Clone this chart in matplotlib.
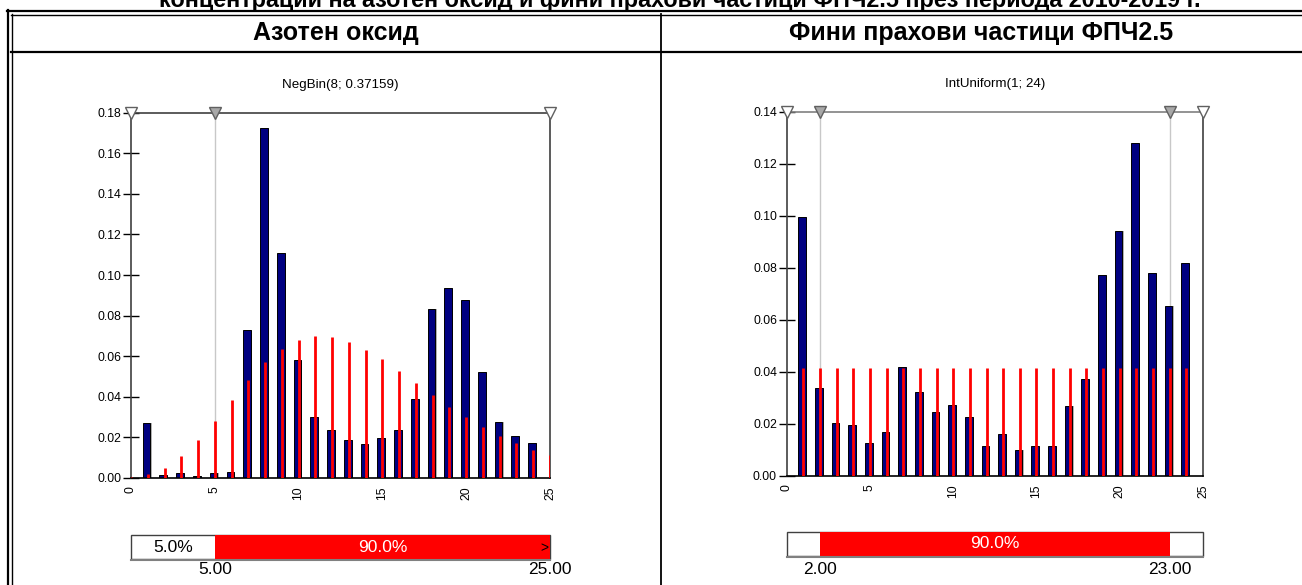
import matplotlib
matplotlib.use("Agg")
import matplotlib.pyplot as plt
from matplotlib.lines import Line2D
from matplotlib.patches import Rectangle
from matplotlib import font_manager
import numpy as np

# ---------------- data ----------------
main_title = "концентрации на азотен оксид и фини прахови частици ФПЧ2.5 през периода 2010-2019 г."
panel_titles = ["Азотен оксид", "Фини прахови частици ФПЧ2.5"]
dist_names = ["NegBin(8; 0.37159)", "IntUniform(1; 24)"]

x_no2 = list(range(1, 25))
no2_hist = [0.0271, 0.0016, 0.0023, 0.0010, 0.0023, 0.0031, 0.0728, 0.1726, 0.1107,
            0.0583, 0.0299, 0.0238, 0.0189, 0.0169, 0.0195, 0.0238, 0.0389, 0.0831,
            0.0934, 0.0879, 0.0522, 0.0278, 0.0209, 0.0174]
x_no2_fit = list(range(0, 26))
no2_fit = [0.0004, 0.0018, 0.0051, 0.0110, 0.0187, 0.0283, 0.0386, 0.0485, 0.0570,
           0.0637, 0.0680, 0.0700, 0.0696, 0.0672, 0.0632, 0.0585, 0.0529, 0.0468,
           0.0407, 0.0352, 0.0299, 0.0250, 0.0207, 0.0171, 0.0138, 0.0112]

x_pm = list(range(1, 25))
pm_hist = [0.0996, 0.0336, 0.0203, 0.0196, 0.0127, 0.0168, 0.0419, 0.0322, 0.0245,
           0.0273, 0.0224, 0.0113, 0.0162, 0.0099, 0.0113, 0.0113, 0.0267, 0.0371,
           0.0771, 0.0940, 0.1280, 0.0778, 0.0651, 0.0820]
x_pm_fit = list(range(1, 25))
pm_fit = [0.0415] * 24

y_max = [0.18, 0.14]
y_ticks = [[0.00, 0.02, 0.04, 0.06, 0.08, 0.10, 0.12, 0.14, 0.16, 0.18],
           [0.00, 0.02, 0.04, 0.06, 0.08, 0.10, 0.12, 0.14]]
x_ticks = [0, 5, 10, 15, 20, 25]
delims = [(5.0, 25.0), (2.0, 23.0)]
pct_left = ["5.0%", ""]
pct_mid = ["90.0%", "90.0%"]
pct_right = [">", ""]
delim_labels = [("5.00", "25.00"), ("2.00", "23.00")]

# ---------------- fonts ----------------
avail = {f.name for f in font_manager.fontManager.ttflist}
narrow = "Liberation Sans Narrow" if "Liberation Sans Narrow" in avail else "Liberation Sans"
plt.rcParams["font.family"] = ["Liberation Sans", "DejaVu Sans"]

W, H = 1302, 585
fig = plt.figure(figsize=(W / 100, H / 100), dpi=100)

def fx(px):
    return px / W

def fy(py):
    return 1 - py / H

def hline(x0, x1, y, lw=1.5, color="black"):
    fig.add_artist(Line2D([fx(x0), fx(x1)], [fy(y), fy(y)], lw=lw, color=color))

def vline(x, y0, y1, lw=1.5, color="black"):
    fig.add_artist(Line2D([fx(x), fx(x)], [fy(y0), fy(y1)], lw=lw, color=color))

# table frame
hline(7, W + 5, 10.5, lw=1.6)
hline(11, W + 5, 14.5, lw=1.0)
vline(7.5, 10, H + 5, lw=1.6)
vline(11.5, 14, H + 5, lw=1.0)
hline(11, W + 5, 52, lw=1.6)
vline(661, 14, H + 5, lw=1.3)

# main title (partly cut off at top, as in the reference)
fig.text(fx(680), fy(7.5), main_title, ha="center", va="baseline", fontsize=16.8,
         fontweight="bold", family=["Liberation Sans", "DejaVu Sans"])

# panel headers
fig.text(fx(336), fy(33), panel_titles[0], ha="center", va="center", fontsize=18,
         fontweight="bold", family=[narrow, "DejaVu Sans"])
fig.text(fx(981), fy(33), panel_titles[1], ha="center", va="center", fontsize=18,
         fontweight="bold", family=[narrow, "DejaVu Sans"])

panels = [
    dict(x0=131, x1=550, ytop=112.7, ybot=478, hx=x_no2, hy=no2_hist, fx_=x_no2_fit,
         fy_=no2_fit, topcol="#404040"),
    dict(x0=786.7, x1=1203, ytop=111.7, ybot=475.7, hx=x_pm, hy=pm_hist, fx_=x_pm_fit,
         fy_=pm_fit, topcol="#808080"),
]
bar_boxes = [(535, 559), (532, 556)]

for i, p in enumerate(panels):
    ax = fig.add_axes([fx(p["x0"]), fy(p["ybot"]), (p["x1"] - p["x0"]) / W,
                       (p["ybot"] - p["ytop"]) / H])
    ax.set_xlim(0, 25)
    ax.set_ylim(0, y_max[i])
    hx = np.array(p["hx"], dtype=float)
    # shadow
    ax.bar(hx, p["hy"], width=0.46, color="#b0b0b0", edgecolor="none", zorder=1)
    ax.bar(hx - 0.07, p["hy"], width=0.46, color="#000080", edgecolor="black",
           linewidth=0.7, zorder=2)
    ax.vlines(p["fx_"], 0, p["fy_"], color="red", lw=2.0, zorder=3)
    d0, d1 = delims[i]
    for d in (d0, d1):
        if d < 25:
            ax.axvline(d, color="#c8c8c8", lw=1.0, zorder=0.5)
    for s in ("top", "left", "right"):
        ax.spines[s].set_color(p["topcol"] if s == "top" else "#404040")
        ax.spines[s].set_linewidth(1.2)
    ax.spines["bottom"].set_color("black")
    ax.spines["bottom"].set_linewidth(1.2)
    ax.set_yticks(y_ticks[i])
    ax.set_yticklabels([f"{v:.2f}" for v in y_ticks[i]])
    ax.tick_params(axis="y", direction="inout", length=12, width=1.0, pad=1,
                   labelsize=8.8, color="black")
    ax.set_xticks(x_ticks)
    ax.set_xticklabels([str(v) for v in x_ticks], rotation=90)
    ax.tick_params(axis="x", length=0, pad=6, labelsize=8.8)
    # delimiter triangles
    yt = y_max[i]
    ax.plot([0, 25], [yt, yt], ls="none", marker="v", ms=8, mfc="white",
            mec="#606060", mew=1.0, clip_on=False, zorder=5)
    inner = [d for d in (d0, d1) if d < 25]
    ax.plot(inner, [yt] * len(inner), ls="none", marker="v", ms=8, mfc="#a8a8a8",
            mec="#606060", mew=1.0, clip_on=False, zorder=6)
    ax.set_title(dist_names[i], fontsize=9.6, pad=18)

    # delimiter bar
    b0, b1 = bar_boxes[i]
    bax = fig.add_axes([fx(p["x0"]), fy(b1), (p["x1"] - p["x0"]) / W, (b1 - b0) / H])
    bax.set_xlim(0, 25)
    bax.set_ylim(0, 1)
    bax.axis("off")
    bax.add_patch(Rectangle((0, 0), 25, 1, facecolor="white", edgecolor="#404040",
                            lw=1.0, clip_on=False))
    bax.add_patch(Rectangle((d0, 0), d1 - d0, 1, facecolor="red", edgecolor="none",
                            clip_on=False))
    bax.plot([0, 25], [-0.04, -0.04], color="#808080", lw=1.5, clip_on=False)
    if pct_left[i]:
        bax.text(d0 / 2, 0.5, pct_left[i], ha="center", va="center", fontsize=12.5)
    bax.text((d0 + d1) / 2, 0.5, pct_mid[i], ha="center", va="center", fontsize=12.5,
             color="white")
    if pct_right[i]:
        bax.text(24.9, 0.45, pct_right[i], ha="right", va="center", fontsize=10)
    fig.text(fx(p["x0"] + (p["x1"] - p["x0"]) * d0 / 25), fy(569), delim_labels[i][0],
             ha="center", va="center", fontsize=12.5)
    fig.text(fx(p["x0"] + (p["x1"] - p["x0"]) * d1 / 25), fy(569), delim_labels[i][1],
             ha="center", va="center", fontsize=12.5)

fig.savefig("out.png", dpi=100)
